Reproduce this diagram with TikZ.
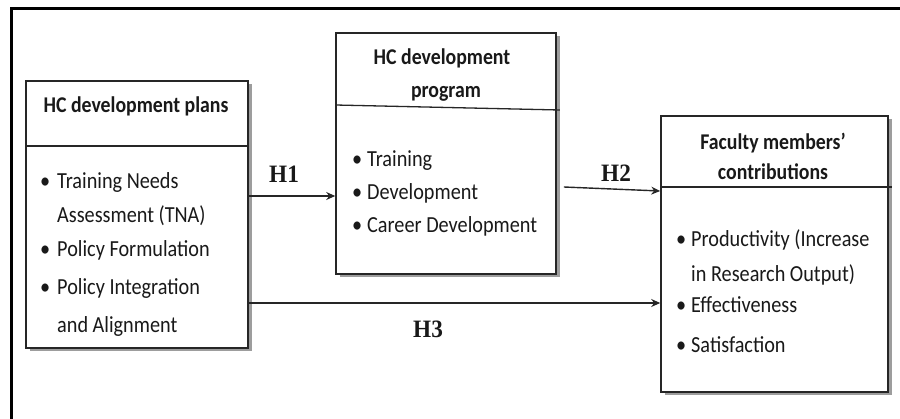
\documentclass[tikz,border=0pt]{standalone}
\usepackage{fontspec}
\setmainfont{Carlito}[FakeStretch=0.88]
\newfontfamily\hfont{Liberation Serif}[FakeStretch=0.93]
\usetikzlibrary{arrows.meta,shadows}
\begin{document}
\begin{tikzpicture}[x=1pt,y=-1pt,
  box/.style={draw=black!85,line width=1.6pt,fill=white,inner sep=0pt,
    drop shadow={shadow xshift=3.5pt,shadow yshift=-3.5pt,fill=black!55,opacity=0.7}},
  sep/.style={draw=black!85,line width=1.3pt},
  ttl/.style={font=\fontsize{22.5}{26}\selectfont\bfseries,text=black!90,inner sep=0pt,anchor=base},
  itm/.style={font=\fontsize{23}{26}\selectfont,text=black!90,inner sep=0pt,anchor=base west},
  hyp/.style={font=\hfont\fontsize{25}{28}\selectfont\bfseries,text=black!90,inner sep=0pt,anchor=base west},
  conn/.style={draw=black!85,line width=1.4pt,-{Stealth[length=9pt,width=8pt]}}]
\useasboundingbox (0,0) rectangle (900,419);
% outer frame
\draw[line width=3pt] (11,425) -- (11,9) -- (905,9);
% boxes
\node[box,minimum width=222pt,minimum height=267pt] (A) at (137,214.5) {};
\node[box,minimum width=220pt,minimum height=241pt] (B) at (446,153.5) {};
\node[box,minimum width=227pt,minimum height=276pt] (C) at (774.5,254) {};
% separators
\draw[sep] (A.west |- 0,146) -- (A.east |- 0,146);
\draw[sep] (B.west |- 0,105) -- ([xshift=3pt]B.east |- 0,110);
\draw[sep] (C.west |- 0,187) -- ([xshift=3pt]C.east |- 0,187);
% titles
\node[ttl] (ta) at (136,113) {HC development plans};
\node[ttl] (tb1) at (442,65) {HC development};
\node[ttl] (tb2) at (446,98) {program};
\node[ttl] (tc1) at (773,150) {Faculty members’};
\node[ttl] (tc2) at (773,180) {contributions};
% box A items
\node[itm] (ba1) at (40,189) {•};
\node[itm] (ia1) at (57,189) {Training Needs};
\node[itm] (ia2) at (57,223) {Assessment (TNA)};
\node[itm] (ba2) at (40,257) {•};
\node[itm] (ia3) at (57,257) {Policy Formulation};
\node[itm] (ba3) at (40,295) {•};
\node[itm] (ia4) at (57,295) {Policy Integration};
\node[itm] (ia5) at (57,333) {and Alignment};
% box B items
\node[itm] (bb1) at (352,167) {•};
\node[itm] (ib1) at (367,167) {Training};
\node[itm] (bb2) at (352,200) {•};
\node[itm] (ib2) at (367,200) {Development};
\node[itm] (bb3) at (352,233) {•};
\node[itm] (ib3) at (367,233) {Career Development};
% box C items
\node[itm] (bc1) at (676,247) {•};
\node[itm] (ic1) at (691,247) {Productivity (Increase};
\node[itm] (ic2) at (691,282) {in Research Output)};
\node[itm] (bc2) at (676,313) {•};
\node[itm] (ic3) at (691,313) {Effectiveness};
\node[itm] (bc3) at (676,353) {•};
\node[itm] (ic4) at (691,353) {Satisfaction};
% connectors
\draw[conn] (A.east |- 0,196) -- (B.west |- 0,196);
\draw[conn] ([xshift=7pt]B.east |- 0,187) -- (C.west |- 0,191);
\draw[conn] (A.east |- 0,303) -- (C.west |- 0,303);
% hypothesis labels
\node[hyp] (h1) at (269,183) {H1};
\node[hyp] (h2) at (601,182) {H2};
\node[hyp] (h3) at (413,338) {H3};
\end{tikzpicture}
\end{document}
